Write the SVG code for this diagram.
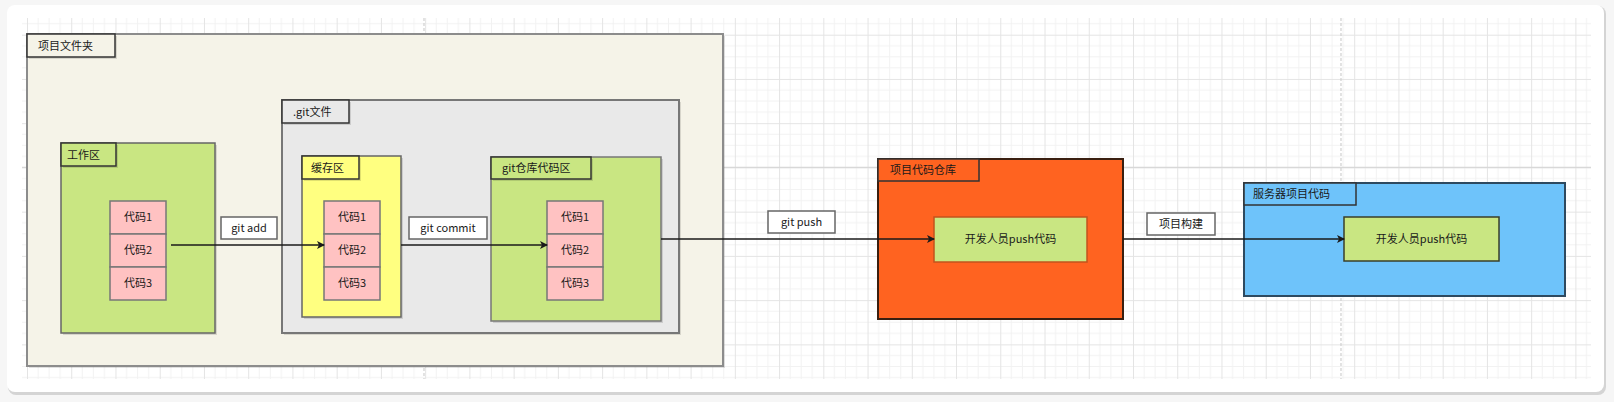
<svg xmlns="http://www.w3.org/2000/svg" width="1614" height="402" viewBox="0 0 1614 402">
<style>
text{font-family:"Noto Sans CJK SC","Liberation Sans",sans-serif;font-size:11px;fill:#1a1a1a}
.c{text-anchor:middle}
.sh{fill:#000;fill-opacity:0.12}
.lab{stroke:#333;stroke-width:1.5}
.elab{fill:#fff;stroke:#666;stroke-width:1.5}
.pink{fill:#ffc2c2;stroke:#777;stroke-width:1.5}
.edge{stroke:#1a1a1a;stroke-width:1.5;fill:none;marker-end:url(#ah)}
</style>
<defs>
<pattern id="grid" patternUnits="userSpaceOnUse" x="27" y="34.7" width="44.24" height="44.24">
<path d="M11.06 0V44.24M22.12 0V44.24M33.18 0V44.24M0 11.06H44.24M0 22.12H44.24M0 33.18H44.24" stroke="#f2f2f2" stroke-width="1"/>
<path d="M0.5 0V44.24M0 0.5H44.24" stroke="#e4e4e4" stroke-width="1"/>
</pattern>
<marker id="ah" viewBox="0 0 8 8" refX="7" refY="4" markerWidth="8" markerHeight="8" markerUnits="userSpaceOnUse" orient="auto">
<path d="M0 0L8 4L0 8L2 4Z" fill="#1a1a1a"/>
</marker>
</defs>
<rect width="1614" height="402" fill="#f6f6f6"/>
<rect x="8" y="6" width="1598" height="389" rx="8" fill="#d4d4d4"/>
<rect x="7" y="5" width="1597" height="387" rx="8" fill="#ffffff"/>
<rect x="22" y="18" width="1569" height="361" fill="url(#grid)"/>
<path d="M424 18V379M1341 18V379" stroke="#d0d0d0" stroke-width="1.2" stroke-dasharray="3 2"/>
<path d="M22 167.4H1591" stroke="#d8d8d8" stroke-width="1.2"/>

<g id="project-folder">
<rect class="sh" x="29" y="36" width="696" height="332"/>
<rect x="27" y="34" width="696" height="332" fill="#f5f3e8" stroke="#8c8c8c" stroke-width="2"/>
<rect class="sh" x="29" y="36" width="88" height="23"/>
<rect class="lab" x="27" y="34" width="88" height="23" fill="#f5f3e8"/>
<text x="38" y="50">项目文件夹</text>
</g>

<g id="workspace">
<rect class="sh" x="63" y="145" width="154" height="190"/>
<rect x="61" y="143" width="154" height="190" fill="#c9e682" stroke="#666" stroke-width="1.5"/>
<rect class="sh" x="63" y="145" width="55" height="23"/>
<rect class="lab" x="61" y="143" width="55" height="23" fill="#c9e682"/>
<text x="67" y="159">工作区</text>
<rect class="pink" x="110" y="201" width="56" height="33"/>
<rect class="pink" x="110" y="234" width="56" height="33"/>
<rect class="pink" x="110" y="267" width="56" height="33"/>
<text class="c" x="138" y="221">代码1</text>
<text class="c" x="138" y="254">代码2</text>
<text class="c" x="138" y="287">代码3</text>
</g>

<g id="git-folder">
<rect class="sh" x="284" y="102" width="397" height="233"/>
<rect x="282" y="100" width="397" height="233" fill="#e9e9e9" stroke="#777" stroke-width="2"/>
<rect class="sh" x="284" y="102" width="67" height="23"/>
<rect class="lab" x="282" y="100" width="67" height="23" fill="#e9e9e9"/>
<text x="293" y="116">.git文件</text>
</g>

<g id="staging">
<rect class="sh" x="304" y="158" width="99" height="161"/>
<rect x="302" y="156" width="99" height="161" fill="#ffff80" stroke="#666" stroke-width="1.5"/>
<rect class="sh" x="304" y="158" width="57" height="23"/>
<rect class="lab" x="302" y="156" width="57" height="23" fill="#ffff80"/>
<text x="311" y="172">缓存区</text>
<rect class="pink" x="324" y="201" width="56" height="33"/>
<rect class="pink" x="324" y="234" width="56" height="33"/>
<rect class="pink" x="324" y="267" width="56" height="33"/>
<text class="c" x="352" y="221">代码1</text>
<text class="c" x="352" y="254">代码2</text>
<text class="c" x="352" y="287">代码3</text>
</g>

<g id="repo-area">
<rect class="sh" x="493" y="159" width="170" height="164"/>
<rect x="491" y="157" width="170" height="164" fill="#c9e682" stroke="#777" stroke-width="1.5"/>
<rect class="sh" x="493" y="159" width="100" height="22"/>
<rect class="lab" x="491" y="157" width="100" height="22" fill="#c9e682"/>
<text x="502" y="172">git仓库代码区</text>
<rect class="pink" x="547" y="201" width="56" height="33"/>
<rect class="pink" x="547" y="234" width="56" height="33"/>
<rect class="pink" x="547" y="267" width="56" height="33"/>
<text class="c" x="575" y="221">代码1</text>
<text class="c" x="575" y="254">代码2</text>
<text class="c" x="575" y="287">代码3</text>
</g>

<g id="remote-repo">
<rect x="878" y="159" width="245" height="160" fill="#ff6320" stroke="#3a1f10" stroke-width="2"/>
<rect class="lab" x="878" y="159" width="101" height="22" fill="#ff6320"/>
<text x="890" y="174">项目代码仓库</text>
<rect x="934" y="217" width="153" height="45" fill="#c9e682" stroke="#c2541c" stroke-width="1.5"/>
<text class="c" x="1010.5" y="243">开发人员push代码</text>
</g>

<g id="server-code">
<rect x="1244" y="183" width="321" height="113" fill="#6ec3fa" stroke="#2e4a60" stroke-width="2"/>
<rect class="lab" x="1244" y="183" width="112" height="22" fill="#6ec3fa"/>
<text x="1253" y="198">服务器项目代码</text>
<rect x="1344" y="217" width="155" height="44" fill="#c9e682" stroke="#3a3f2a" stroke-width="1.5"/>
<text class="c" x="1421.5" y="243">开发人员push代码</text>
</g>

<g id="connectors">
<path class="edge" d="M171 245H324"/>
<path class="edge" d="M401 245H547"/>
<path class="edge" d="M661 239H934"/>
<path class="edge" d="M1123 239H1344"/>
<rect class="elab" x="221" y="217" width="56" height="22"/>
<text class="c" x="249" y="232">git add</text>
<rect class="elab" x="409" y="217" width="78" height="22"/>
<text class="c" x="448" y="232">git commit</text>
<rect class="elab" x="768" y="211" width="67" height="22"/>
<text class="c" x="801.5" y="226">git push</text>
<rect class="elab" x="1147" y="213" width="68" height="22"/>
<text class="c" x="1181" y="228">项目构建</text>
</g>
</svg>
